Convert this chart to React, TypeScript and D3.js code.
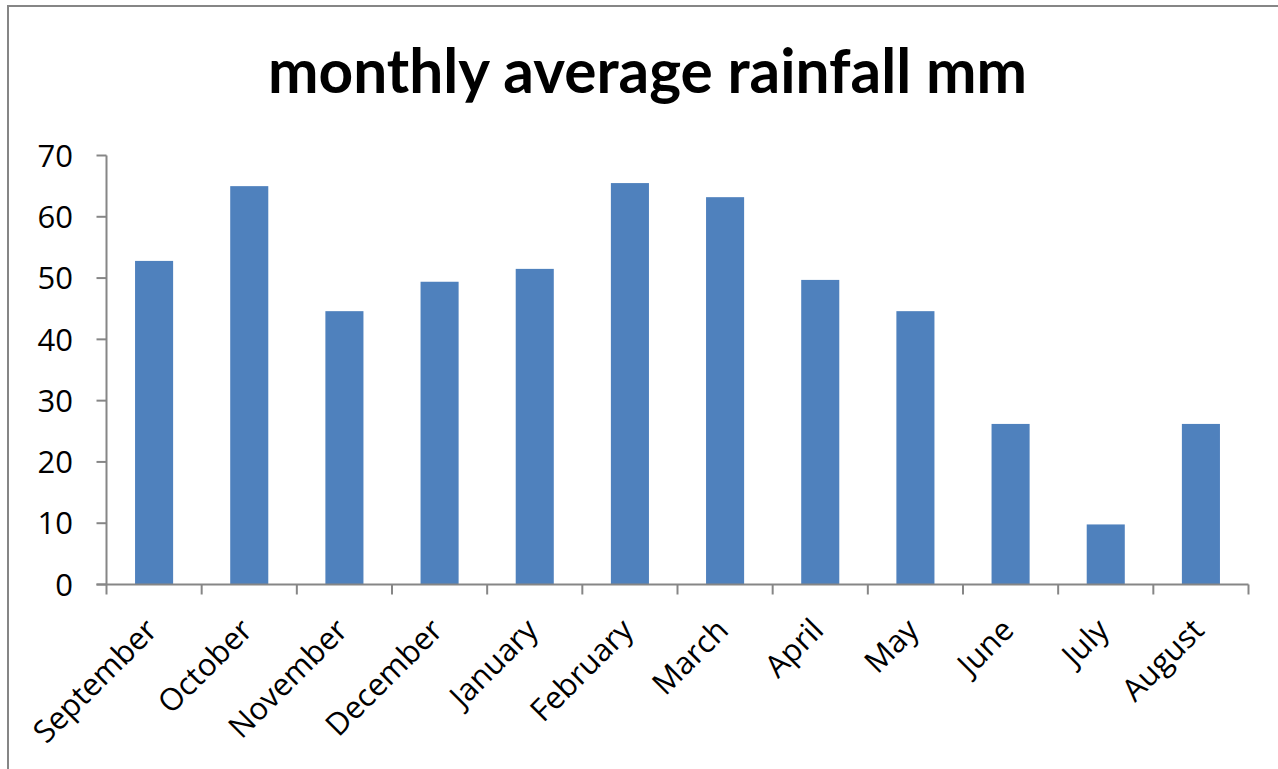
import React from "react";
import * as d3 from "d3";

const months = [
  "September", "October", "November", "December", "January", "February",
  "March", "April", "May", "June", "July", "August",
];
const rainfall = [52.8, 65.0, 44.6, 49.4, 51.5, 65.5, 63.2, 49.7, 44.6, 26.2, 9.8, 26.2];
const yTicks = [0, 10, 20, 30, 40, 50, 60, 70];
const title = "monthly average rainfall mm";

const W = 1278;
const H = 769;
const plot = { left: 106.5, right: 1248.5, top: 155.5, bottom: 584.5 };
const axisColor = "#868686";
const barColor = "#4F81BD";
const labelFont = "'Open Sans', sans-serif";
const labelSize = 31;

export default function App() {
  const x = d3
    .scaleBand<string>()
    .domain(months)
    .range([plot.left, plot.right])
    .paddingInner(0.6)
    .paddingOuter(0.3);
  const y = d3.scaleLinear().domain([0, 70]).range([plot.bottom, plot.top]);
  const step = (plot.right - plot.left) / months.length;
  const boundaries = d3.range(months.length + 1).map((i) => plot.left + i * step);

  return (
    <svg
      width={W}
      height={H}
      style={{ position: "absolute", left: 0, top: 0, background: "#fff" }}
    >
      <rect x={8} y={6} width={W + 20} height={H + 20} fill="#fff" stroke={axisColor} strokeWidth={2} />
      <text
        x={647.5}
        y={93}
        textAnchor="middle"
        fontFamily="Lato, sans-serif"
        fontWeight={700}
        fontSize={61}
        textLength={759}
        lengthAdjust="spacingAndGlyphs"
        fill="#000"
      >
        {title}
      </text>

      {months.map((m, i) => (
        <rect
          key={m}
          x={x(m)}
          y={y(rainfall[i])}
          width={x.bandwidth()}
          height={y(0) - y(rainfall[i])}
          fill={barColor}
        />
      ))}

      {/* y axis */}
      <line x1={plot.left} x2={plot.left} y1={plot.top} y2={plot.bottom} stroke={axisColor} strokeWidth={2} />
      {yTicks.map((t) => (
        <g key={t}>
          <line x1={plot.left - 10} x2={plot.left} y1={y(t)} y2={y(t)} stroke={axisColor} strokeWidth={2} />
          <text
            x={73}
            y={y(t)}
            dy="0.36em"
            textAnchor="end"
            fontFamily={labelFont}
            fontSize={labelSize}
            fill="#000"
          >
            {t}
          </text>
        </g>
      ))}

      {/* x axis */}
      <line x1={plot.left - 10} x2={plot.right} y1={plot.bottom} y2={plot.bottom} stroke={axisColor} strokeWidth={2} />
      {boundaries.map((bx, i) => (
        <line key={i} x1={bx} x2={bx} y1={plot.bottom} y2={plot.bottom + 10} stroke={axisColor} strokeWidth={2} />
      ))}
      {months.map((m) => {
        const cx = (x(m) as number) + x.bandwidth() / 2;
        return (
          <text
            key={m}
            transform={`translate(${cx + 5},${632}) rotate(-45)`}
            textAnchor="end"
            fontFamily={labelFont}
            fontSize={labelSize}
            fill="#000"
          >
            {m}
          </text>
        );
      })}
    </svg>
  );
}
